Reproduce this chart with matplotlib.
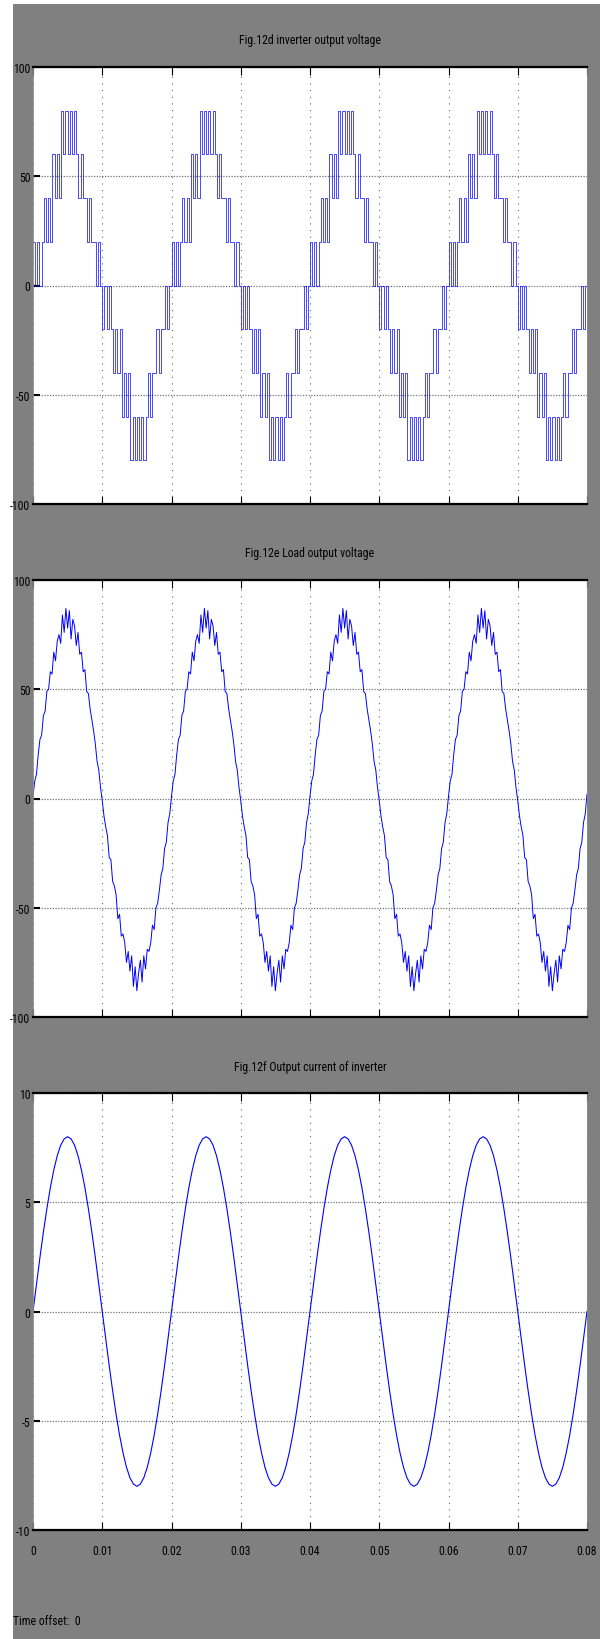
import numpy as np
import matplotlib
matplotlib.use("Agg")
import matplotlib.pyplot as plt
from matplotlib.patches import Rectangle

FONT = ["Liberation Sans Narrow", "Roboto Condensed", "Liberation Sans", "DejaVu Sans"]
plt.rcParams['font.family'] = FONT

# ---------------- data ----------------
titles = ["Fig.12d inverter output voltage",
          "Fig.12e Load output voltage",
          "Fig.12f Output current of inverter"]
x_ticks = [0, 0.01, 0.02, 0.03, 0.04, 0.05, 0.06, 0.07, 0.08]
x_ticklabels = ["0", "0.01", "0.02", "0.03", "0.04", "0.05", "0.06", "0.07", "0.08"]
y_ticks_v = [-100, -50, 0, 50, 100]
y_ticks_i = [-10, -5, 0, 5, 10]
n_cycles = 4

# inverter output voltage: positive half cycle levels, step 0.3125 ms
stair_dt = 0.0003125
stair_half = [20, 0, 20, 0, 20,
              40, 20, 40, 20,
              60, 40, 60, 40,
              80, 60, 80, 60, 80, 60, 80,
              60, 40, 60, 40,
              40, 20, 40, 20,
              20, 0, 20, 0]

# load output voltage: one cycle, step 0.25 ms
load_dt = 0.00025
load_cycle = [1, 8, 11, 20, 27, 29, 38, 40, 49, 50,
              58, 57, 67, 63, 72, 75, 71, 84, 76, 87,
              78, 86, 73, 82, 79, 70, 76, 66, 67, 58,
              59, 49, 48, 41, 36, 31, 25, 17, 13, 5,
              -1, -8, -13, -17, -27, -28, -38, -40, -44, -55,
              -53, -63, -62, -66, -75, -70, -79, -72, -86, -77,
              -88, -80, -74, -84, -72, -78, -69, -70, -66, -58,
              -60, -50, -48, -42, -35, -32, -23, -20, -11, -7]

# inverter output current: one cycle, step 0.5 ms
cur_dt = 0.0005
cur_cycle = [0, 1.25, 2.47, 3.63, 4.70, 5.66, 6.47, 7.13, 7.61, 7.90,
             8.0, 7.90, 7.61, 7.13, 6.47, 5.66, 4.70, 3.63, 2.47, 1.25,
             0, -1.25, -2.47, -3.63, -4.70, -5.66, -6.47, -7.13, -7.61, -7.90,
             -8.0, -7.90, -7.61, -7.13, -6.47, -5.66, -4.70, -3.63, -2.47, -1.25]

# ---------------- build series ----------------
half = np.array(stair_half, float)
v_stair = np.concatenate([np.concatenate([half, -half])] * n_cycles)
v_stair = np.append(v_stair, 20.0)
t_stair = np.arange(len(v_stair)) * stair_dt

v_load = np.append(np.tile(np.array(load_cycle, float), n_cycles), 2.0)
t_load = np.arange(len(v_load)) * load_dt

i_out = np.append(np.tile(np.array(cur_cycle, float), n_cycles), 0.0)
t_cur = np.arange(len(i_out)) * cur_dt

# ---------------- figure ----------------
W, H = 600, 1640
fig = plt.figure(figsize=(W / 100, H / 100), dpi=100, facecolor="white")
fig.patches.append(Rectangle((13 / W, 0), 1 - 13 / W, 1 - 5 / H,
                             transform=fig.transFigure, facecolor="#808080",
                             edgecolor="none", zorder=-10))

left, right = 33, 587
tops = [68, 581, 1094]
ax_h = 437
axes = []
for top in tops:
    ax = fig.add_axes([left / W, 1 - (top + ax_h) / H, (right - left) / W, ax_h / H])
    axes.append(ax)

FS = 8.5

def style(ax, yticks, show_x):
    ax.set_facecolor("white")
    ax.set_xlim(0, 0.08)
    ax.set_ylim(yticks[0], yticks[-1])
    ax.set_xticks(x_ticks)
    ax.set_yticks(yticks)
    ax.set_yticklabels([str(v) for v in yticks], fontsize=FS, family=FONT)
    if show_x:
        ax.set_xticklabels(x_ticklabels, fontsize=FS, family=FONT)
    else:
        ax.set_xticklabels([])
    ax.tick_params(axis="x", direction="in", length=6, width=0.8,
                   top=True, bottom=True, colors="black", pad=10)
    ax.tick_params(axis="y", direction="in", length=5, width=1.5,
                   left=True, right=False, colors="black", pad=2)
    ax.xaxis.grid(True, linestyle=(0, (1, 5)), color="0.4", lw=0.8)
    ax.yaxis.grid(True, linestyle=(0, (1, 1.2)), color="0.45", lw=0.9)
    for s in ("top", "bottom"):
        ax.spines[s].set_color("black")
        ax.spines[s].set_linewidth(1.6)
    for s in ("left", "right"):
        ax.spines[s].set_color("0.55")
        ax.spines[s].set_linewidth(0.6)

ax1, ax2, ax3 = axes
ax1.step(t_stair, v_stair, where="post", color="blue", lw=0.5)
style(ax1, y_ticks_v, False)

ax2.plot(t_load, v_load, color="blue", lw=0.7)
style(ax2, y_ticks_v, False)

ax3.plot(t_cur, i_out, color="blue", lw=0.8)
style(ax3, y_ticks_i, True)

for ax, title in zip(axes, titles):
    ax.text(0.5, 1 + 27 / ax_h, title, transform=ax.transAxes, ha="center",
            va="center", fontsize=FS, color="black", family=FONT)

fig.text(13 / W, 1 - 1622 / H, "Time offset:  0", ha="left", va="center",
         fontsize=FS, color="black", family=FONT)

fig.savefig("out.png", dpi=100, facecolor=fig.get_facecolor())
